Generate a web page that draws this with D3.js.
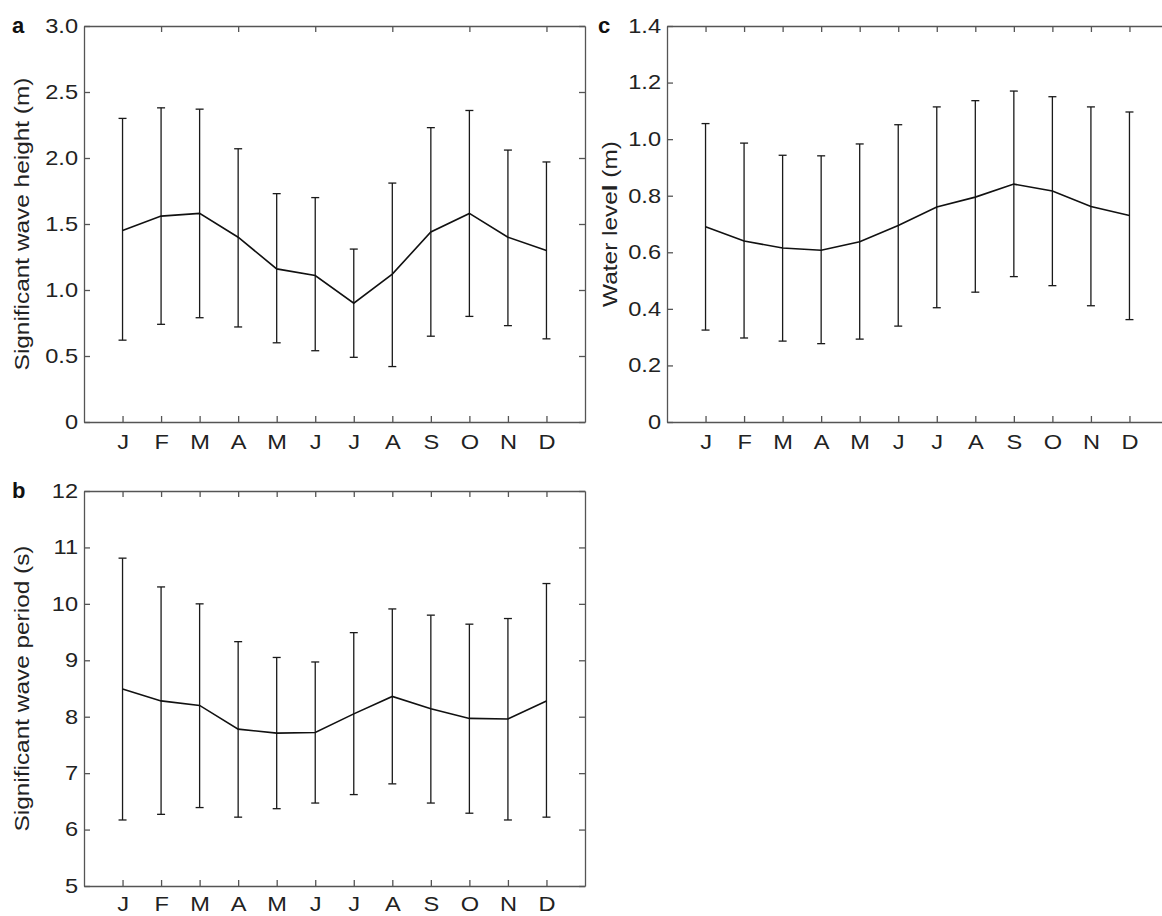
<!DOCTYPE html>
<html>
<head>
<meta charset="utf-8">
<script src="https://cdn.jsdelivr.net/npm/d3@7"></script>
<style>
  body { margin: 0; background: #fff; }
  svg { display: block; }
  .tick text { font-family: "Liberation Sans", Arial, sans-serif; font-size: 20px; fill: #222; }
  .axis path, .axis line { stroke: #555; stroke-width: 1.3; }
  .title { font-family: "Liberation Sans", Arial, sans-serif; font-size: 20px; fill: #222; }
  .letter { font-family: "Liberation Sans", Arial, sans-serif; font-size: 22px; font-weight: bold; fill: #111; }
</style>
</head>
<body>
<svg id="chart" width="1162" height="916"></svg>
<script>
// months, plotted at 1..12
const months = ['J', 'F', 'M', 'A', 'M', 'J', 'J', 'A', 'S', 'O', 'N', 'D'];

// a: significant wave height (m)
const hsMean  = [1.45, 1.56, 1.58, 1.40, 1.16, 1.11, 0.90, 1.12, 1.44, 1.58, 1.40, 1.30];
const hsUpper = [2.30, 2.38, 2.37, 2.07, 1.73, 1.70, 1.31, 1.81, 2.23, 2.36, 2.06, 1.97];
const hsLower = [0.62, 0.74, 0.79, 0.72, 0.60, 0.54, 0.49, 0.42, 0.65, 0.80, 0.73, 0.63];
const hsTicks = [0, 0.5, 1.0, 1.5, 2.0, 2.5, 3.0];

// b: significant wave period (s)
const tpMean  = [8.49, 8.28, 8.20, 7.78, 7.71, 7.72, 8.05, 8.36, 8.14, 7.97, 7.96, 8.28];
const tpUpper = [10.81, 10.30, 10.00, 9.33, 9.05, 8.97, 9.49, 9.91, 9.80, 9.64, 9.74, 10.36];
const tpLower = [6.17, 6.27, 6.39, 6.22, 6.37, 6.47, 6.62, 6.81, 6.47, 6.29, 6.17, 6.22];
const tpTicks = [5, 6, 7, 8, 9, 10, 11, 12];

// c: water level (m)
const wlMean  = [0.69, 0.64, 0.615, 0.607, 0.637, 0.695, 0.76, 0.795, 0.841, 0.817, 0.762, 0.73];
const wlUpper = [1.055, 0.986, 0.943, 0.941, 0.983, 1.051, 1.114, 1.136, 1.170, 1.150, 1.114, 1.096];
const wlLower = [0.325, 0.297, 0.286, 0.277, 0.293, 0.339, 0.404, 0.459, 0.514, 0.482, 0.411, 0.362];
const wlTicks = [0, 0.2, 0.4, 0.6, 0.8, 1.0, 1.2, 1.4];

const svg = d3.select('#chart');
const SX = 1.18;   // the original type is wider than Arial

function fmt(d) {
  return d === 0 ? '0' : d3.format('.1f')(d);
}

// widen tick labels horizontally, keeping their anchor point
function widen(axisG) {
  axisG.selectAll('.tick text').each(function() {
    const t = d3.select(this);
    const x0 = +(t.attr('x') || 0);
    t.attr('x', x0 / SX).attr('transform', `scale(${SX},1)`);
  });
}

function drawPanel(p) {
  const g = svg.append('g').attr('transform', `translate(${p.left},${p.top})`);
  const x = d3.scaleLinear().domain([0, 13]).range([0, p.width]);
  const y = d3.scaleLinear().domain(p.domain).range([p.height, 0]);
  const idx = d3.range(1, 13);

  // bottom axis with month labels
  const bottom = g.append('g').attr('class', 'axis')
    .attr('transform', `translate(0,${p.height})`)
    .call(d3.axisBottom(x).tickValues(idx).tickSizeInner(-6).tickSizeOuter(0)
      .tickPadding(p.monthPad).tickFormat(d => months[d - 1]));
  widen(bottom);

  // top axis, ticks only
  g.append('g').attr('class', 'axis')
    .call(d3.axisTop(x).tickValues(p.topTicks || idx).tickSizeInner(-6).tickSizeOuter(0).tickFormat(''));

  // left axis
  const left = g.append('g').attr('class', 'axis')
    .call(d3.axisLeft(y).tickValues(p.ticks).tickSizeInner(-6).tickSizeOuter(0)
      .tickPadding(6).tickFormat(p.format));
  widen(left);

  // right axis, ticks only
  g.append('g').attr('class', 'axis')
    .attr('transform', `translate(${p.width},0)`)
    .call(d3.axisRight(y).tickValues(p.ticks).tickSizeInner(-6).tickSizeOuter(0).tickFormat(''));

  g.selectAll('.axis .domain').attr('stroke', '#555');

  // error bars
  const cap = 4;
  const bars = g.append('g').attr('stroke', '#1a1a1a').attr('stroke-width', 1.3).attr('fill', 'none');
  idx.forEach((m, i) => {
    bars.append('line').attr('x1', x(m)).attr('x2', x(m))
      .attr('y1', y(p.lower[i])).attr('y2', y(p.upper[i]));
    bars.append('line').attr('x1', x(m) - cap).attr('x2', x(m) + cap)
      .attr('y1', y(p.upper[i])).attr('y2', y(p.upper[i]));
    bars.append('line').attr('x1', x(m) - cap).attr('x2', x(m) + cap)
      .attr('y1', y(p.lower[i])).attr('y2', y(p.lower[i]));
  });

  // mean line
  const line = d3.line().x((d, i) => x(i + 1)).y(d => y(d));
  g.append('path').datum(p.mean)
    .attr('d', line)
    .attr('fill', 'none')
    .attr('stroke', '#111')
    .attr('stroke-width', 1.6);

  // y title, stretched along the text direction
  const t = g.append('text').attr('class', 'title')
    .attr('transform', `translate(${p.titleX},${p.height / 2}) rotate(-90) scale(1.22,1)`)
    .attr('text-anchor', 'middle');
  p.title.forEach(part => {
    t.append('tspan').text(part.s).attr('font-weight', part.bold ? 'bold' : null);
  });

  // panel letter
  svg.append('text').attr('class', 'letter')
    .attr('x', p.letterX).attr('y', p.top + 7)
    .text(p.letter);
}

drawPanel({
  left: 84, top: 26, width: 501, height: 396,
  domain: [0, 3], ticks: hsTicks, format: fmt, topTicks: [2, 4, 6, 8, 10, 12],
  mean: hsMean, upper: hsUpper, lower: hsLower, monthPad: 13,
  title: [{ s: 'Significant wave height (m)' }], titleX: -55,
  letter: 'a', letterX: 12
});

drawPanel({
  left: 84, top: 491, width: 501, height: 395,
  domain: [5, 12], ticks: tpTicks, format: d3.format('d'),
  mean: tpMean, upper: tpUpper, lower: tpLower, monthPad: 11,
  title: [{ s: 'Significant wave period (s)' }], titleX: -55,
  letter: 'b', letterX: 12
});

drawPanel({
  left: 667, top: 26, width: 501, height: 396,
  domain: [0, 1.4], ticks: wlTicks, format: fmt,
  mean: wlMean, upper: wlUpper, lower: wlLower, monthPad: 13,
  title: [{ s: 'Water leve' }, { s: 'l', bold: true }, { s: ' (m)' }], titleX: -50,
  letter: 'c', letterX: 598
});
</script>
</body>
</html>
